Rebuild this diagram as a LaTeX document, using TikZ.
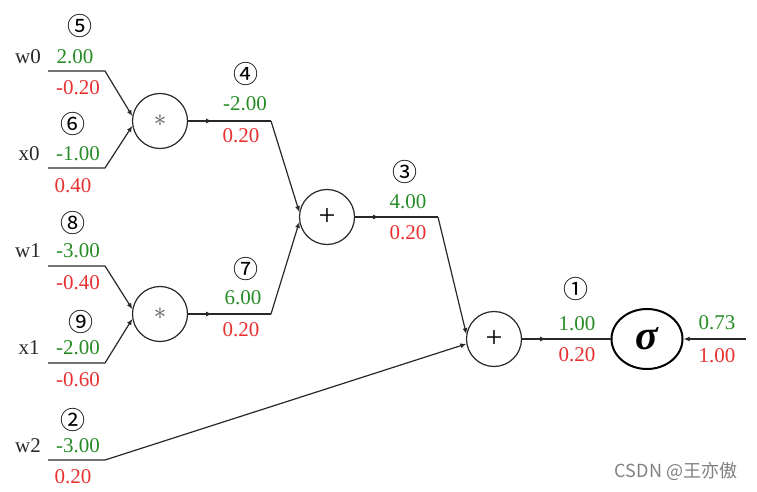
\documentclass[tikz,border=0pt]{standalone}
\usepackage{amsmath,amssymb}
\usepackage{fontspec}
\setmainfont{Liberation Serif}
\newfontfamily\cjkfont{Noto Sans CJK SC}
\usetikzlibrary{arrows.meta, decorations.markings, shapes.geometric}
\definecolor{fwd}{RGB}{38,140,38}
\definecolor{bwd}{RGB}{232,48,48}
\definecolor{ink}{RGB}{40,40,40}
\tikzset{
  gate/.style ={circle, draw=ink, line width=1.2pt, minimum size=55pt, inner sep=0pt},
  sigbox/.style ={ellipse, draw=black, line width=2pt, minimum width=71pt, minimum height=60pt, inner sep=0pt},
  fv/.style   ={text=fwd, font=\fontsize{21}{24}\selectfont, inner sep=0pt},
  bv/.style   ={text=bwd, font=\fontsize{21}{24}\selectfont, inner sep=0pt},
  var/.style  ={text=ink, font=\fontsize{21}{24}\selectfont, inner sep=0pt},
  num/.style  ={font=\cjkfont\fontsize{25}{28}\selectfont, inner sep=0pt},
  wire/.style ={draw=ink, line width=1.2pt, line join=round},
  tip/.style  ={wire, -{Latex[length=6pt,width=5pt]}},
  mid/.style  ={wire, postaction={decorate},
                decoration={markings, mark=at position 24pt with {\arrow{Latex[length=6pt,width=5pt]}}}},
}

\begin{document}
\begin{tikzpicture}[x=1pt,y=-1pt]
\useasboundingbox (0,0) rectangle (757,492);
% gates
\node[gate, text=ink!80, font=\fontsize{26}{30}\selectfont] (m1) at (160,121) {$\ast$};
\node[gate, text=ink!80, font=\fontsize{26}{30}\selectfont] (m2) at (160,314) {$\ast$};
\node[gate, font=\fontsize{30}{32}\selectfont] (a1) at (327,217) {+};
\node[gate, font=\fontsize{30}{32}\selectfont] (a2) at (494,339) {+};
\node[sigbox, font=\bfseries\itshape\fontsize{42}{46}\selectfont] (sg) at (647,339) {σ};
% wire ends
\coordinate (w0s) at (48,71);  \coordinate (w0e) at (105,71);
\coordinate (x0s) at (48,168); \coordinate (x0e) at (105,168);
\coordinate (w1s) at (48,266); \coordinate (w1e) at (105,266);
\coordinate (x1s) at (48,363); \coordinate (x1e) at (105,363);
\coordinate (w2s) at (48,460); \coordinate (w2e) at (105,460);
\coordinate (j4) at (271,121); \coordinate (j7) at (271,314);
\coordinate (j3) at (438,217); \coordinate (o) at (746,339);
% wires
\draw[tip] (w0s) -- (w0e) -- (m1.170);
\draw[tip] (x0s) -- (x0e) -- (m1.190);
\draw[tip] (w1s) -- (w1e) -- (m2.170);
\draw[tip] (x1s) -- (x1e) -- (m2.190);
\draw[mid] (m1) -- (j4); \draw[tip] (j4) -- (a1.170);
\draw[mid] (m2) -- (j7); \draw[tip] (j7) -- (a1.190);
\draw[mid] (a1) -- (j3); \draw[tip] (j3) -- (a2.170);
\draw[tip] (w2s) -- (w2e) -- (a2.190);
\draw[mid] (a2) -- (sg);
\draw[tip] (o) -- (sg);
% inputs
\node[num] (n5) at (80,26) {⑤};
\node[var] (lw0) at (28,57) {w0};
\node[fv] (f0) at (75,57) {2.00};
\node[bv] (b0) at (78,88) {-0.20};
\node[num] (n6) at (73,124) {⑥};
\node[var] (lx0) at (29,154) {x0};
\node[fv] (f1) at (78,154) {-1.00};
\node[bv] (b1) at (73,186) {0.40};
\node[num] (n8) at (73,223) {⑧};
\node[var] (lw1) at (28,251) {w1};
\node[fv] (f2) at (78,251) {-3.00};
\node[bv] (b2) at (78,283) {-0.40};
\node[num] (n9) at (81,322) {⑨};
\node[var] (lx1) at (29,348) {x1};
\node[fv] (f3) at (78,348) {-2.00};
\node[bv] (b3) at (78,380) {-0.60};
\node[num] (n2) at (73,420) {②};
\node[var] (lw2) at (28,446) {w2};
\node[fv] (f4) at (78,446) {-3.00};
\node[bv] (b4) at (73,477) {0.20};
% inner values
\node[num] (n4) at (246,74) {④};
\node[fv] (f5) at (245,104) {-2.00};
\node[bv] (b5) at (241,136) {0.20};
\node[num] (n7) at (246,269) {⑦};
\node[fv] (f6) at (243,298) {6.00};
\node[bv] (b6) at (241,330) {0.20};
\node[num] (n3) at (405,172) {③};
\node[fv] (f7) at (408,202) {4.00};
\node[bv] (b7) at (408,233) {0.20};
\node[num] (n1) at (576,289) {①};
\node[fv] (f8) at (577,324) {1.00};
\node[bv] (b8) at (577,355) {0.20};
\node[fv] (f9) at (717,323) {0.73};
\node[bv] (b9) at (717,356) {1.00};
% watermark
\node[text=gray, font=\cjkfont\fontsize{18}{20}\selectfont, inner sep=0pt] (wm) at (676,471) {CSDN @王亦傲};
\end{tikzpicture}
\end{document}
